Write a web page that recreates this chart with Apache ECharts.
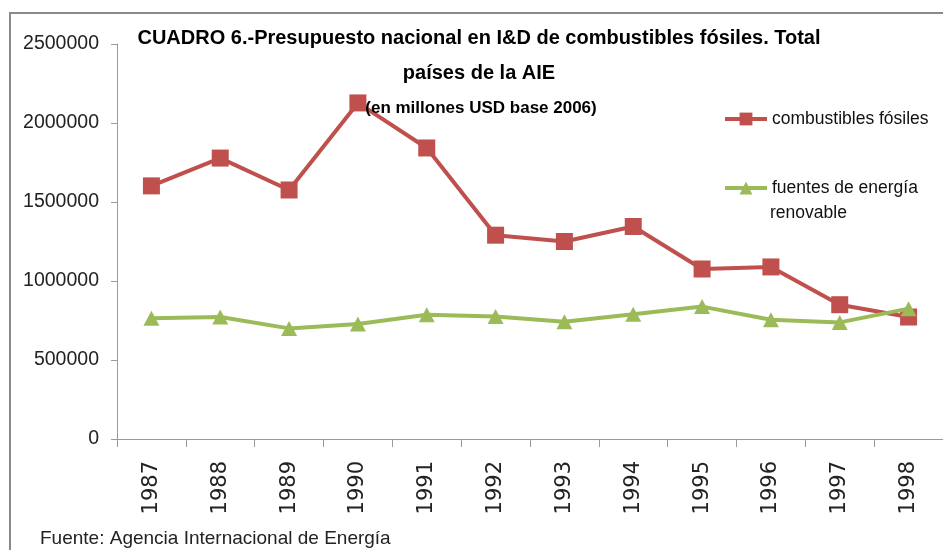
<!DOCTYPE html>
<html>
<head>
<meta charset="utf-8">
<script src="https://cdn.jsdelivr.net/npm/echarts@6/dist/echarts.min.js"></script>
<style>html,body{margin:0;padding:0;background:#fff;}#c{width:943px;height:550px;}</style>
</head>
<body>
<div id="c"></div>
<script>
const years = ['1987','1988','1989','1990','1991','1992','1993','1994','1995','1996','1997','1998'];
const fosiles = [1602000, 1778000, 1576000, 2127000, 1842000, 1290000, 1250000, 1345000, 1076000, 1089000, 850000, 772000];
const renovables = [765000, 772000, 700000, 728000, 787000, 775000, 742000, 790000, 838000, 755000, 738000, 825000];
const yTicks = [0, 500000, 1000000, 1500000, 2000000, 2500000];

const chart = echarts.init(document.getElementById('c'));
chart.setOption({
  animation: false,
  backgroundColor: '#fff',
  title: [
    {
      text: 'CUADRO 6.-Presupuesto nacional en I&D de combustibles fósiles. Total\npaíses de la AIE',
      left: 479, top: 21, textAlign: 'center', padding: 0,
      textStyle: {fontFamily: 'Liberation Sans', fontSize: 20, fontWeight: 'bold', color: '#000', lineHeight: 35}
    },
    {
      text: '(en millones USD base 2006)',
      left: 481, top: 97, textAlign: 'center', padding: 0,
      textStyle: {fontFamily: 'Liberation Sans', fontSize: 17, fontWeight: 'bold', color: '#000', lineHeight: 22}
    },
    {
      text: 'Fuente: Agencia Internacional de Energía',
      left: 40, top: 529, padding: 0,
      textStyle: {fontFamily: 'Liberation Sans', fontSize: 19, fontWeight: 'normal', color: '#222'}
    }
  ],
  graphic: [
    {type: 'rect', shape: {x: 10, y: 13, width: 980, height: 600}, style: {fill: 'none', stroke: '#8a8a8a', lineWidth: 2}, z: -1},
    {type: 'text', left: 770, top: 204, style: {text: 'renovable', font: '17.5px "Liberation Sans"', fill: '#111'}}
  ],
  legend: [
    {
      data: ['combustibles fósiles'], orient: 'vertical', left: 723, top: 110, padding: 0,
      itemWidth: 42, itemHeight: 16,
      lineStyle: {width: 4},
      textStyle: {fontFamily: 'Liberation Sans', fontSize: 17.5, color: '#111'}
    },
    {
      data: ['fuentes de energía renovable'], orient: 'vertical', left: 723, top: 179, padding: 0,
      itemWidth: 42, itemHeight: 16,
      lineStyle: {width: 4},
      formatter: () => 'fuentes de energía',
      textStyle: {fontFamily: 'Liberation Sans', fontSize: 17.5, color: '#111'}
    }
  ],
  grid: {left: 117, top: 44, width: 834, height: 395, containLabel: false},
  xAxis: {
    type: 'category', data: years, boundaryGap: true,
    axisLine: {lineStyle: {color: '#9a9a9a', width: 1}},
    axisTick: {show: true, length: 8, lineStyle: {color: '#9a9a9a'}},
    axisLabel: {rotate: 90, margin: 22, fontFamily: 'DejaVu Sans', fontSize: 21, color: '#222'},
    splitLine: {show: false}
  },
  yAxis: {
    type: 'value', min: 0, max: 2500000, interval: 500000,
    axisLine: {show: true, lineStyle: {color: '#9a9a9a', width: 1}},
    axisTick: {show: true, length: 6, lineStyle: {color: '#9a9a9a'}},
    axisLabel: {margin: 18, fontFamily: 'Liberation Sans', fontSize: 19.5, color: '#222',
      formatter: v => yTicks.includes(v) ? String(v) : ''},
    splitLine: {show: false}
  },
  series: [
    {
      name: 'combustibles fósiles', type: 'line', data: fosiles,
      symbol: 'rect', symbolSize: 17,
      lineStyle: {color: '#C0504D', width: 4},
      itemStyle: {color: '#C0504D'}, z: 3
    },
    {
      name: 'fuentes de energía renovable', type: 'line', data: renovables,
      symbol: 'triangle', symbolSize: [16, 15],
      lineStyle: {color: '#9BBB59', width: 4},
      itemStyle: {color: '#9BBB59'}, z: 4
    }
  ]
});
</script>
</body>
</html>
